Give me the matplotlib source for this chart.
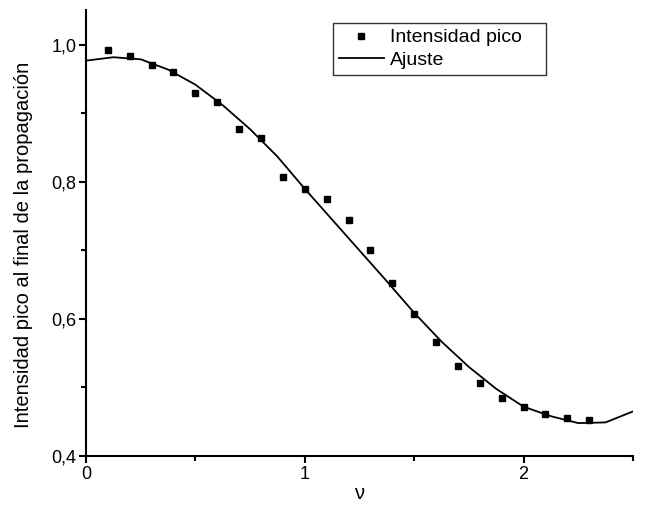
import matplotlib
matplotlib.use('Agg')
import matplotlib.pyplot as plt
from matplotlib.ticker import MultipleLocator, FuncFormatter

plt.rcParams['font.family'] = ['Liberation Sans', 'DejaVu Sans']

# measured peak intensity
nu_pts = [0.1, 0.2, 0.3, 0.4, 0.5, 0.6, 0.7, 0.8, 0.9, 1.0, 1.1, 1.2,
          1.3, 1.4, 1.5, 1.6, 1.7, 1.8, 1.9, 2.0, 2.1, 2.2, 2.3]
peak = [0.993, 0.984, 0.971, 0.960, 0.930, 0.916, 0.877, 0.864, 0.807,
        0.789, 0.775, 0.744, 0.701, 0.653, 0.607, 0.566, 0.531, 0.507,
        0.485, 0.472, 0.461, 0.455, 0.453]

# fitted curve
nu_fit = [0.0, 0.125, 0.25, 0.375, 0.5, 0.625, 0.75, 0.875, 1.0, 1.125,
          1.25, 1.375, 1.5, 1.625, 1.75, 1.875, 2.0, 2.125, 2.25, 2.375, 2.5]
fit = [0.977, 0.982, 0.979, 0.964, 0.942, 0.912, 0.877, 0.837, 0.790,
       0.745, 0.700, 0.655, 0.609, 0.567, 0.530, 0.498, 0.472, 0.458,
       0.448, 0.449, 0.465]

fig = plt.figure(figsize=(6.45, 5.08), dpi=100)
ax = fig.add_axes([0.1333, 0.1024, 0.848, 0.878])

ax.plot(nu_pts, peak, 's', color='black', markersize=4.5, label='Intensidad pico')
ax.plot(nu_fit, fit, '-', color='black', linewidth=1.3, label='Ajuste')

ax.set_xlim(0, 2.5)
ax.set_ylim(0.4, 1.051)
ax.xaxis.set_major_locator(MultipleLocator(1))
ax.xaxis.set_minor_locator(MultipleLocator(0.5))
ax.yaxis.set_major_locator(MultipleLocator(0.2))
ax.yaxis.set_minor_locator(MultipleLocator(0.1))
ax.yaxis.set_major_formatter(FuncFormatter(lambda v, p: f'{v:.1f}'.replace('.', ',')))
ax.xaxis.set_major_formatter(FuncFormatter(lambda v, p: f'{v:.0f}'))

for s in ['top', 'right']:
    ax.spines[s].set_visible(False)
for s in ['left', 'bottom']:
    ax.spines[s].set_linewidth(1.5)

ax.tick_params(which='major', direction='out', length=5, width=1.5,
               labelsize=13, pad=2)
ax.tick_params(which='minor', direction='out', length=3.5, width=1.5)

ax.set_xlabel('ν', fontsize=14.5, labelpad=1)
ax.set_ylabel('Intensidad pico al final de la propagación', fontsize=14.5)
ax.yaxis.set_label_coords(-0.097, 0.473)

leg = ax.legend(loc='upper left', bbox_to_anchor=(0.452, 0.971, 0.389, 0.0),
                mode='expand', fontsize=14,
                frameon=True, fancybox=False, edgecolor='black',
                handlelength=2.3, handletextpad=0.3, borderpad=0.3,
                labelspacing=0.25, borderaxespad=0)
leg.get_frame().set_linewidth(1.0)

fig.savefig('out.png', dpi=100)
